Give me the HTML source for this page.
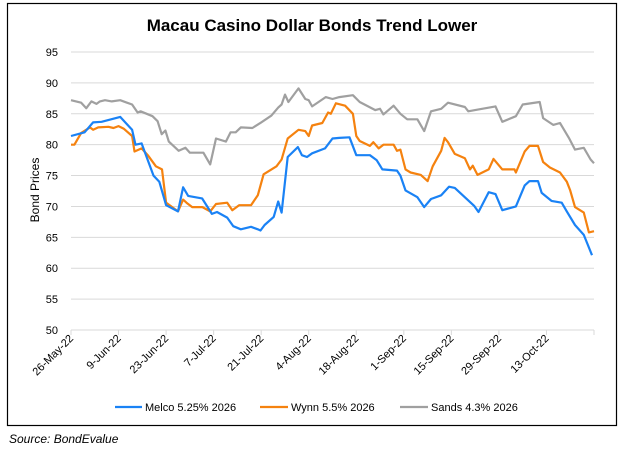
<!DOCTYPE html>
<html><head><meta charset="utf-8">
<style>
html,body{margin:0;padding:0;background:#fff;}
body{width:625px;height:453px;position:relative;overflow:hidden;font-family:"Liberation Sans",sans-serif;}
svg{position:absolute;left:0;top:0;}
</style></head>
<body>
<svg id="chart" width="625" height="453">
  <rect x="7.5" y="3.5" width="609" height="422" fill="#fff" stroke="#000" stroke-width="1.2"/>
  <text x="312" y="31" text-anchor="middle" font-size="17" font-weight="bold" fill="#000">Macau Casino Dollar Bonds Trend Lower</text>
  <g id="grid"></g>
  <g id="yticks"></g>
  <g id="xticks"></g>
  <g id="series"></g>
  <text transform="translate(39,190) rotate(-90)" text-anchor="middle" font-size="12" fill="#000">Bond Prices</text>
  <g>
    <g>
      <line x1="115" y1="407" x2="142" y2="407" stroke="#1a82f5" stroke-width="2.2"/>
      <text x="145" y="411" font-size="11" fill="#000">Melco 5.25% 2026</text>
    </g>
    <g>
      <line x1="260" y1="407" x2="288" y2="407" stroke="#f5820f" stroke-width="2.2"/>
      <text x="291" y="411" font-size="11" fill="#000">Wynn 5.5% 2026</text>
    </g>
    <g>
      <line x1="400" y1="407" x2="428" y2="407" stroke="#a0a0a0" stroke-width="2.2"/>
      <text x="431" y="411" font-size="11" fill="#000">Sands 4.3% 2026</text>
    </g>
  </g>
  <text x="9" y="443" font-size="12" font-style="italic" fill="#000">Source: BondEvalue</text>
</svg>
<script>
const yTicks=[50,55,60,65,70,75,80,85,90,95];
const xTickLabels=["26-May-22","9-Jun-22","23-Jun-22","7-Jul-22","21-Jul-22","4-Aug-22","18-Aug-22","1-Sep-22","15-Sep-22","29-Sep-22","13-Oct-22"];
const xTickDays=[0,14,28,42,56,70,84,98,112,126,140];
const melcoDays=[0,4,6.5,9,14.5,18,19,20.8,24.3,26,28,31.5,33,34.5,38.6,41.5,43,46,47.8,50,53,55,55.8,57,59.7,61,62,63.8,66.8,68,69.5,71,74.8,77,79,82,84,88,90,91.7,96,97,98.5,102,104,106,109,111.3,113,118.7,120,123,125,127,131,133.6,135,137.5,138.6,141.5,144.5,146,148.4,151,153.4];
const melcoVals=[81.4,82,83.6,83.7,84.5,82.4,80,80.2,75,74,70.2,69.2,73.1,71.7,71.3,68.8,69.1,68.2,66.8,66.3,66.7,66.3,66.1,67,68.3,70.8,69,78,79.6,78.3,78,78.6,79.4,81,81.1,81.2,78.3,78.3,77.5,76,75.8,75,72.6,71.5,69.9,71.2,71.8,73.2,73,70.1,69.1,72.3,72,69.4,70,73.4,74.1,74.1,72.2,70.9,70.6,69.2,67,65.4,62.1];
const wynnDays=[0,1,3,5.6,6.5,8,11,12.5,14,15.5,18,18.7,20.8,22.6,25,26.8,28,31.5,33,34,35.7,38.7,41,42.7,46,47.5,49.5,53,55,56.7,60.5,62,63.8,67,69,70,71,74,75.7,76.5,78,80.7,83,84,85,88,89,90.6,92,95,96,97,98.5,100,103,105,106.5,109,110,111,113,116,117.5,118.3,119.7,123,124.4,127,130.6,131,133.6,135,137.5,139,141,144,146,147,148.4,151,152.5,154];
const wynnVals=[80,80,81.9,82.8,82.4,82.8,82.9,82.7,83,82.6,81.4,78.9,79.4,78.3,76.5,76,70.6,69.2,71.1,70.6,69.9,69.9,69.2,70.4,70.6,69.4,70.2,70.2,71.8,75.2,76.5,77.6,81,82.4,82.2,81.4,83.1,83.5,85.2,85,86.7,86.3,85,81.4,80.6,79.8,80.4,79.4,80,80,79,79.2,76,75.5,75.1,74.1,76.5,79,81.1,80.4,78.5,77.8,76,76.6,75.1,76,77.7,76,76,75.5,78.9,79.8,79.8,77.2,76.3,75.5,74,72.6,69.9,69,65.8,66];
const sandsDays=[0,3,4.5,6,7.5,8.5,10,12,14.5,18,19.6,20.5,24,25.5,26.7,27.8,28.8,31.7,33.7,35,39,41,42.7,45.6,47,48.5,50,53.4,56,59,61,62,63,64,67,69,70,71,75,77,79,83,85,89.6,91,92,95,97,99,102,104,106,109,111,116,117,119,125,127,131,133,138,139,142,144,146.6,148.4,151,153,154];
const sandsVals=[87.2,86.8,85.9,87,86.6,87,87.2,87,87.2,86.5,85.2,85.4,84.6,83.8,81.7,82.3,80.5,79,79.5,78.7,78.7,76.8,81,80.5,82,82,82.8,82.7,83.6,84.7,86,86.5,88.1,86.9,89.1,87.4,87.2,86.2,87.7,87.4,87.7,88,86.9,85.6,85.8,84.9,86.3,85,84.1,84.1,82.2,85.4,85.8,86.8,86.1,85.4,85.6,86.2,83.7,84.6,86.5,86.9,84.3,83.2,83.5,81.1,79.2,79.5,77.6,77];

const X0=71,X1=594,DMAX=154,Y0=330,Y1=52,VMIN=50,VMAX=95;
const xs=d=>X0+(X1-X0)*d/DMAX;
const ys=v=>Y0-(Y0-Y1)*(v-VMIN)/(VMAX-VMIN);
const NS="http://www.w3.org/2000/svg";
function mk(tag,attrs,parent){const e=document.createElementNS(NS,tag);for(const k in attrs)e.setAttribute(k,attrs[k]);parent.appendChild(e);return e;}
const grid=document.getElementById('grid'),yt=document.getElementById('yticks'),xt=document.getElementById('xticks'),ser=document.getElementById('series');
yTicks.forEach(v=>{
  const l=mk('line',{x1:X0,x2:X1,y1:ys(v),y2:ys(v),stroke:'#d9d9d9','stroke-width':1},grid);
  
  
  const t=mk('text',{x:58,y:ys(v)+4,'text-anchor':'end','font-size':11,fill:'#000'},yt);
  t.textContent=v;
  
  
});
const ax=mk('line',{x1:X0,x2:X1,y1:Y0,y2:Y0,stroke:'#d9d9d9','stroke-width':1},grid);


for(let i=0;i<=xTickDays.length;i++){
  const d=i<xTickDays.length?xTickDays[i]:DMAX;
  const tk=mk('line',{x1:xs(d),x2:xs(d),y1:Y0,y2:Y0+5,stroke:'#d9d9d9','stroke-width':1},grid);
  
  
}
xTickLabels.forEach((lab,i)=>{
  const x=xs(xTickDays[i])+3,y=Y0+9;
  const t=mk('text',{x:x,y:y,'text-anchor':'end','font-size':11,fill:'#000',transform:`rotate(-45 ${x} ${y})`},xt);
  t.textContent=lab;
  
  
});
function line(days,vals,color,name){
  const p=mk('polyline',{points:days.map((d,i)=>xs(d).toFixed(1)+','+ys(vals[i]).toFixed(1)).join(' '),fill:'none',stroke:color,'stroke-width':2.2,'stroke-linejoin':'round'},ser);
  
  
}
line(sandsDays,sandsVals,'#a0a0a0','sands-line');
line(wynnDays,wynnVals,'#f5820f','wynn-line');
line(melcoDays,melcoVals,'#1a82f5','melco-line');
</script>
</body></html>
